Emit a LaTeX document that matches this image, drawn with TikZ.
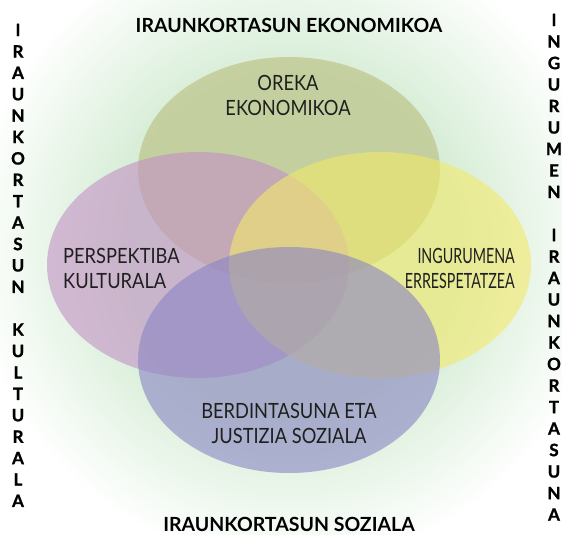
\documentclass[tikz,border=0pt]{standalone}
\usepackage{fontspec}
\setmainfont{Lato}
\newfontfamily\boxfont[FakeStretch=0.87]{Lato}
\newfontfamily\narrowfont[FakeStretch=0.68]{Lato}
\newfontfamily\sidefont[FakeBold=1.2]{Lato}

\definecolor{glowgreen}{RGB}{212,236,212}
\definecolor{ecocol}{RGB}{185,188,123}
\definecolor{cultcol}{RGB}{195,145,197}
\definecolor{envcol}{RGB}{243,233,107}
\definecolor{soccol}{RGB}{137,132,195}

\pgfdeclareradialshading{glow}{\pgfpoint{0bp}{0bp}}{color(0bp)=(glowgreen); color(13bp)=(glowgreen); color(25bp)=(white); color(50bp)=(white)}

\tikzset{
    venn/.style={fill opacity=0.6},
    inner/.style={font=\boxfont\fontsize{21}{25}\selectfont, inner sep=0pt, text=black!88},
    heading/.style={font=\bfseries\fontsize{19.5}{19.5}\selectfont, inner sep=0pt, anchor=base},
    side/.style={font=\sidefont\bfseries\fontsize{17}{17}\selectfont, inner sep=0pt},
}

\begin{document}
\begin{tikzpicture}[x=1pt,y=-1pt]
    \fill[white] (0,0) rectangle (562,535);
    \useasboundingbox (0,0) rectangle (562,535);
    %% green glow
    \shade[shading=glow] (289,245) circle (320pt);
    %% the four spheres
    \fill[venn,ecocol] (289,170) ellipse [x radius=151pt, y radius=113pt];
    \fill[venn,cultcol] (198,265) ellipse [x radius=151pt, y radius=113pt];
    \fill[venn,envcol] (380,265) ellipse [x radius=151pt, y radius=113pt];
    \fill[venn,soccol] (289,360) ellipse [x radius=151pt, y radius=113pt];
    %% labels inside
    \node[inner,align=center] (oreka) at (288,95) {OREKA\\EKONOMIKOA};
    \node[inner,align=left,anchor=west] (perspektiba) at (63,268) {PERSPEKTIBA\\KULTURALA};
    \node[inner,align=right,anchor=east,font=\narrowfont\fontsize{21}{25}\selectfont] (ingurumena) at (515,268) {INGURUMENA\\ERRESPETATZEA};
    \node[inner,align=center] (berdintasuna) at (289,423) {BERDINTASUNA ETA\\JUSTIZIA SOZIALA};
    %% headings
    \node[heading] (ekonomia) at (289,33) {IRAUNKORTASUN EKONOMIKOA};
    \node[heading] (gizartea) at (289,531) {IRAUNKORTASUN SOZIALA};
    %% side columns
    \foreach \l [count=\i] in {I,R,A,U,N,K,O,R,T,A,S,U,N,{},K,U,L,T,U,R,A,L,A} {
        \node[side] (kultura\i) at (18,{30+21.4*(\i-1)}) {\l};
    }
    \foreach \l [count=\i] in {I,N,G,U,R,U,M,E,N,{},I,R,A,U,N,K,O,R,T,A,S,U,N,A} {
        \node[side] (ingurumen\i) at (554,{20+21.5*(\i-1)}) {\l};
    }
\end{tikzpicture}
\end{document}
